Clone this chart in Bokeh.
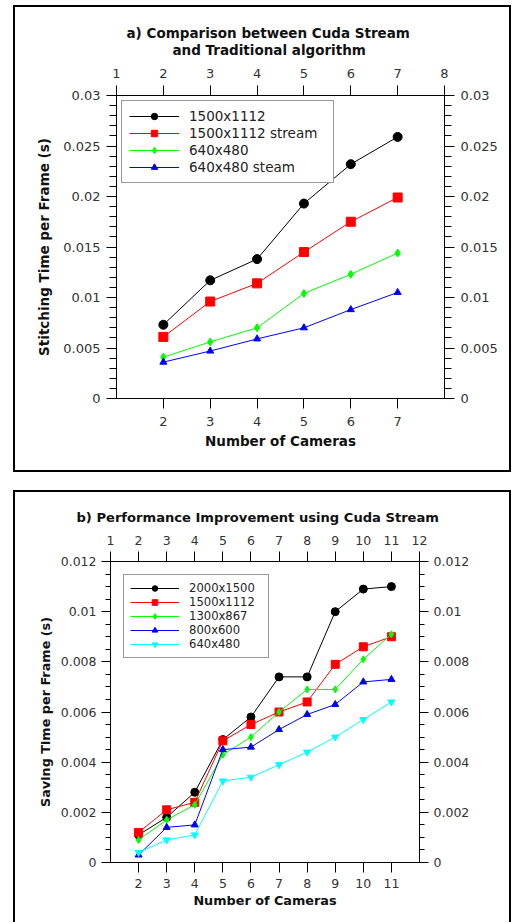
from bokeh.plotting import figure
from bokeh.models import LinearAxis, FixedTicker, Range1d, Title, Legend, LegendItem
from bokeh.embed import file_html
from bokeh.resources import INLINE
import numpy as np

# ---------------- data: panel a ----------------
cams_a = [2, 3, 4, 5, 6, 7]
a_1500x1112 = [0.0073, 0.0117, 0.0138, 0.0193, 0.0232, 0.0259]
a_1500x1112_stream = [0.0061, 0.0096, 0.0114, 0.0145, 0.0175, 0.0199]
a_640x480 = [0.0041, 0.0056, 0.0070, 0.0104, 0.0123, 0.0144]
a_640x480_steam = [0.0036, 0.0047, 0.0059, 0.0070, 0.0088, 0.0105]
a_names = ["1500x1112", "1500x1112 stream", "640x480", "640x480 steam"]
a_top_ticks = [1, 2, 3, 4, 5, 6, 7, 8]
a_bottom_ticks = [2, 3, 4, 5, 6, 7]
a_y_ticks = [0, 0.005, 0.01, 0.015, 0.02, 0.025, 0.03]
a_y_labels = ["0", "0.005", "0.01", "0.015", "0.02", "0.025", "0.03"]

# ---------------- data: panel b ----------------
cams_b = [2, 3, 4, 5, 6, 7, 8, 9, 10, 11]
b_2000x1500 = [0.0011, 0.0018, 0.0028, 0.0049, 0.0058, 0.0074, 0.0074, 0.0100, 0.0109, 0.0110]
b_1500x1112 = [0.0012, 0.0021, 0.0024, 0.00485, 0.0055, 0.0060, 0.0064, 0.0079, 0.0086, 0.0090]
b_1300x867 = [0.0009, 0.0017, 0.0023, 0.0043, 0.0050, 0.0060, 0.0069, 0.0069, 0.0081, 0.0091]
b_800x600 = [0.0003, 0.0014, 0.0015, 0.0045, 0.0046, 0.0053, 0.0059, 0.0063, 0.0072, 0.0073]
b_640x480 = [0.0004, 0.0009, 0.0011, 0.00325, 0.0034, 0.0039, 0.0044, 0.0050, 0.0057, 0.0064]
b_names = ["2000x1500", "1500x1112", "1300x867", "800x600", "640x480"]
b_top_ticks = list(range(1, 13))
b_bottom_ticks = list(range(2, 12))
b_y_ticks = [0, 0.002, 0.004, 0.006, 0.008, 0.01, 0.012]
b_y_labels = ["0", "0.002", "0.004", "0.006", "0.008", "0.01", "0.012"]

FONT = "DejaVu Sans"


def style_axis(ax, ticks, labels=None, minor=None, size="13px", tick_out=10, minor_out=7, standoff=6):
    ax.ticker = FixedTicker(ticks=ticks, minor_ticks=minor if minor is not None else [])
    if labels is not None:
        ax.major_label_overrides = dict(zip(ticks, labels))
    ax.axis_line_color = "black"
    ax.axis_line_width = 1
    ax.major_tick_line_color = "black"
    ax.minor_tick_line_color = "black"
    ax.major_tick_out = tick_out
    ax.major_tick_in = 0
    ax.minor_tick_out = minor_out
    ax.minor_tick_in = 0
    ax.major_label_text_font = FONT
    ax.major_label_text_font_size = size
    ax.major_label_text_color = "#333333"
    ax.major_label_standoff = standoff


def label_axis(ax, text, size, standoff):
    ax.axis_label = text
    ax.axis_label_text_font = FONT
    ax.axis_label_text_font_size = size
    ax.axis_label_text_font_style = "bold"
    ax.axis_label_text_color = "#111111"
    ax.axis_label_standoff = standoff


def make_title(text, size, standoff, offset):
    return Title(text=text, align="left", offset=offset, text_font=FONT, text_font_size=size,
                 text_font_style="bold", text_color="#111111", standoff=standoff)


# ================= panel a =================
p1 = figure(width=494, height=463, x_range=Range1d(1, 8), y_range=Range1d(0, 0.03),
            output_backend="svg", toolbar_location=None, title=None,
            min_border_left=101, min_border_right=69, min_border_top=88, min_border_bottom=76)
p1.styles = {"border": "2px solid black", "box-sizing": "content-box",
             "margin-left": "13px", "margin-top": "5px"}
p1.xgrid.visible = False
p1.ygrid.visible = False
p1.outline_line_color = None
p1.background_fill_color = "white"
p1.border_fill_color = "white"

ya_minor = list(np.round(np.arange(0, 0.0301, 0.001), 4))
style_axis(p1.xaxis[0], a_bottom_ticks, standoff=8)
label_axis(p1.xaxis[0], "Number of Cameras", "13.5px", 4)
style_axis(p1.yaxis[0], a_y_ticks, a_y_labels, ya_minor)
label_axis(p1.yaxis[0], "Stitching Time per Frame (s)", "13.5px", 8)

top1 = LinearAxis()
style_axis(top1, a_top_ticks, standoff=8)
p1.add_layout(top1, "above")
right1 = LinearAxis()
style_axis(right1, a_y_ticks, a_y_labels, ya_minor)
p1.add_layout(right1, "right")
p1.add_layout(make_title("and Traditional algorithm", "13.5px", 16, 56), "above")
p1.add_layout(make_title("a) Comparison between Cuda Stream", "13.5px", -18, 10), "above")

series_a = [
    (a_1500x1112, "black", "circle", 9),
    (a_1500x1112_stream, "red", "square", 9),
    (a_640x480, "#00ff00", "diamond", 8),
    (a_640x480_steam, "blue", "triangle", 7),
]
items_a = []
for (vals, col, mk, sz), name in zip(series_a, a_names):
    ln = p1.line(cams_a, vals, line_color=col, line_width=1)
    sc = p1.scatter(cams_a, vals, marker=mk, size=sz, fill_color=col, line_color=col)
    items_a.append(LegendItem(label=name, renderers=[ln, sc]))
leg_a = Legend(items=items_a, location="top_left", margin=5, padding=7, spacing=1,
               label_height=16, glyph_height=16, glyph_width=50, label_standoff=10,
               label_width=137,
               label_text_font=FONT, label_text_font_size="13.5px", label_text_color="#222222",
               border_line_color="#333333", border_line_width=1.5, background_fill_alpha=1)
p1.add_layout(leg_a)

# ================= panel b =================
p2 = figure(width=494, height=430, x_range=Range1d(1, 12), y_range=Range1d(0, 0.012),
            output_backend="svg", toolbar_location=None, title=None,
            min_border_left=95, min_border_right=94, min_border_top=69, min_border_bottom=62)
p2.styles = {"border": "2px solid black", "border-bottom": "none", "box-sizing": "content-box",
             "margin-left": "13px", "margin-top": "18px"}
p2.xgrid.visible = False
p2.ygrid.visible = False
p2.outline_line_color = None
p2.background_fill_color = "white"
p2.border_fill_color = "white"

yb_minor = list(np.round(np.arange(0, 0.01201, 0.0005), 5))
style_axis(p2.xaxis[0], b_bottom_ticks, size="12.5px", tick_out=10, minor_out=5, standoff=6)
label_axis(p2.xaxis[0], "Number of Cameras", "12.8px", 2)
style_axis(p2.yaxis[0], b_y_ticks, b_y_labels, yb_minor, size="12.5px", tick_out=9, minor_out=5, standoff=5)
label_axis(p2.yaxis[0], "Saving Time per Frame (s)", "12.8px", 5)

top2 = LinearAxis()
style_axis(top2, b_top_ticks, size="12.5px", tick_out=10, minor_out=5, standoff=7)
p2.add_layout(top2, "above")
right2 = LinearAxis()
style_axis(right2, b_y_ticks, b_y_labels, yb_minor, size="12.5px", tick_out=9, minor_out=5, standoff=5)
p2.add_layout(right2, "right")
p2.add_layout(make_title("b)  Performance Improvement using Cuda Stream", "13.1px", 15, -34), "above")

series_b = [
    (b_2000x1500, "black", "circle", 8),
    (b_1500x1112, "red", "square", 8),
    (b_1300x867, "#00ff00", "diamond", 7),
    (b_800x600, "blue", "triangle", 7),
    (b_640x480, "cyan", "inverted_triangle", 7),
]
items_b = []
for (vals, col, mk, sz), name in zip(series_b, b_names):
    ln = p2.line(cams_b, vals, line_color=col, line_width=1)
    sc = p2.scatter(cams_b, vals, marker=mk, size=sz, fill_color=col, line_color=col)
    items_b.append(LegendItem(label=name, renderers=[ln, sc]))
leg_b = Legend(items=items_b, location="top_left", margin=13, padding=6, spacing=0,
               label_height=14, glyph_height=14, glyph_width=49, label_standoff=10,
               label_width=73,
               label_text_font=FONT, label_text_font_size="11.6px", label_text_color="#222222",
               border_line_color="#333333", border_line_width=1.5, background_fill_alpha=1)
p2.add_layout(leg_b)

open("out.html", "w").write(file_html([p1, p2], INLINE))
